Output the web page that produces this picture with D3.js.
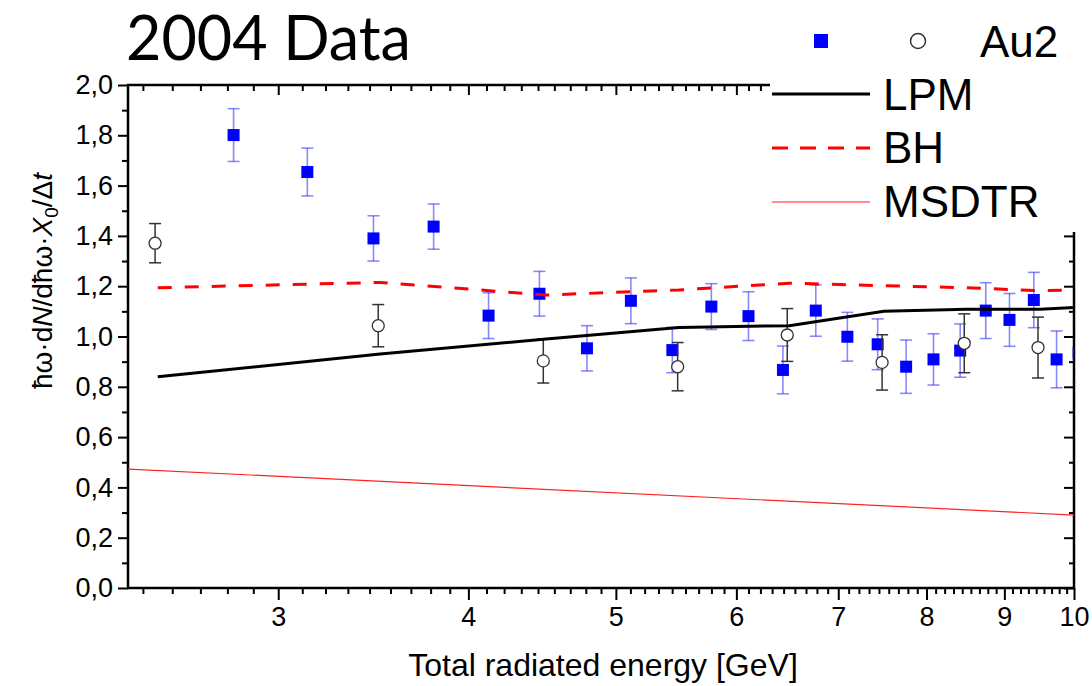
<!DOCTYPE html>
<html>
<head>
<meta charset="utf-8">
<script src="https://cdn.jsdelivr.net/npm/d3@7"></script>
<style>
  body { margin: 0; background: #fff; }
  text { font-family: "Liberation Sans", Arial, sans-serif; }
</style>
</head>
<body>
<div id="chart"></div>
<script>
// blue squares (first data set, no label in legend)
var energyBlue = [2.804, 3.135, 3.465, 3.795, 4.124, 4.454, 4.786, 5.115, 5.446, 5.777, 6.111, 6.438,
                  6.766, 7.097, 7.43, 7.757, 8.085, 8.418, 8.75, 9.07, 9.41, 9.74, 10.07];
var valueBlue  = [1.801, 1.654, 1.390, 1.437, 1.083, 1.170, 0.953, 1.142, 0.946, 1.119, 1.081, 0.867,
                  1.103, 0.999, 0.969, 0.880, 0.909, 0.944, 1.103, 1.066, 1.145, 0.909, 0.935];
var errBlue    = [0.105, 0.095, 0.090, 0.090, 0.091, 0.089, 0.090, 0.091, 0.090, 0.091, 0.097, 0.095,
                  0.102, 0.097, 0.101, 0.106, 0.102, 0.106, 0.111, 0.105, 0.110, 0.113, 0.118];

// Au2 open circles
var energyAu2 = [2.49, 3.49, 4.48, 5.49, 6.48, 7.48, 8.47, 9.47];
var valueAu2  = [1.371, 1.043, 0.903, 0.880, 1.006, 0.897, 0.973, 0.956];
var errAu2    = [0.078, 0.084, 0.088, 0.096, 0.105, 0.110, 0.117, 0.121];

// theory curves
var energyTheory = [2.5, 3.5, 4.5, 5.5, 6.5, 7.5, 8.5, 9.5, 10];
var valueLPM     = [0.840, 0.930, 0.990, 1.036, 1.043, 1.100, 1.108, 1.108, 1.115];
var valueBH      = [1.194, 1.215, 1.165, 1.185, 1.212, 1.202, 1.194, 1.182, 1.185];
var energyMSDTR  = [2.39, 10];
var valueMSDTR   = [0.473, 0.290];

// ticks
var xMajor = [3, 4, 5, 6, 7, 8, 9, 10];
var yMajor = [0, 0.2, 0.4, 0.6, 0.8, 1.0, 1.2, 1.4, 1.6, 1.8, 2.0];

var w = 1092, h = 686;
var pLeft = 128, pRight = 1074, pTop = 85, pBottom = 588;

var svg = d3.select("#chart").append("svg")
  .attr("width", w)
  .attr("height", h);

var x = d3.scaleLog().domain([2.39, 10]).range([pLeft, pRight]);
var y = d3.scaleLinear().domain([0, 2]).range([pBottom, pTop]);

// minor ticks: 8 between majors (1/9 apart), as on the original axis
var xMinor = [];
for (var m = 2; m < 10; m++) {
  for (var k = 1; k < 9; k++) {
    var v = m + k / 9;
    if (v >= 2.39 && v <= 10) xMinor.push(v);
  }
}
var yMinor = d3.range(0.1, 2, 0.2);

svg.append("defs").append("clipPath").attr("id", "plotclip")
  .append("rect")
  .attr("x", pLeft).attr("y", pTop)
  .attr("width", pRight - pLeft).attr("height", pBottom - pTop);

// axes
function styleAxis(g) {
  g.attr("font-size", 27).attr("font-family", "'Liberation Sans', Arial, sans-serif");
  g.select(".domain").remove();
  g.selectAll(".tick line").attr("stroke", "#000").attr("stroke-width", 2);
  g.selectAll(".tick text").attr("fill", "#000");
}

svg.append("g").attr("transform", "translate(0," + pBottom + ")")
  .call(d3.axisBottom(x).tickValues(xMajor).tickSize(12).tickPadding(7).tickFormat(d3.format("d")))
  .call(styleAxis);
svg.append("g").attr("transform", "translate(0," + pBottom + ")")
  .call(d3.axisBottom(x).tickValues(xMinor).tickSize(6).tickFormat(""))
  .call(styleAxis);

svg.append("g").attr("transform", "translate(0," + pTop + ")")
  .call(d3.axisTop(x).tickValues(xMajor).tickSize(-10).tickFormat(""))
  .call(styleAxis);
svg.append("g").attr("transform", "translate(0," + pTop + ")")
  .call(d3.axisTop(x).tickValues(xMinor).tickSize(-6).tickFormat(""))
  .call(styleAxis);

svg.append("g").attr("transform", "translate(" + pLeft + ",0)")
  .call(d3.axisLeft(y).tickValues(yMajor).tickSize(10).tickPadding(5)
        .tickFormat(d => d.toFixed(1).replace(".", ",")))
  .call(styleAxis);
svg.append("g").attr("transform", "translate(" + pLeft + ",0)")
  .call(d3.axisLeft(y).tickValues(yMinor).tickSize(6).tickFormat(""))
  .call(styleAxis);

svg.append("g").attr("transform", "translate(" + pRight + ",0)")
  .call(d3.axisRight(y).tickValues(yMajor).tickSize(-10).tickFormat(""))
  .call(styleAxis);
svg.append("g").attr("transform", "translate(" + pRight + ",0)")
  .call(d3.axisRight(y).tickValues(yMinor).tickSize(-5).tickFormat(""))
  .call(styleAxis);

// frame
svg.append("rect")
  .attr("x", pLeft).attr("y", pTop)
  .attr("width", pRight - pLeft).attr("height", pBottom - pTop)
  .attr("fill", "none").attr("stroke", "#000").attr("stroke-width", 2.5);

var plot = svg.append("g").attr("clip-path", "url(#plotclip)");

var blue = energyBlue.map((e, i) => ({e: e, v: valueBlue[i], err: errBlue[i]}));
var au2 = energyAu2.map((e, i) => ({e: e, v: valueAu2[i], err: errAu2[i]}));

function errorBars(data, color, width) {
  var g = plot.append("g").attr("stroke", color).attr("stroke-width", width).attr("fill", "none");
  data.forEach(function(d) {
    var cx = x(d.e);
    g.append("line").attr("x1", cx).attr("x2", cx).attr("y1", y(d.v - d.err)).attr("y2", y(d.v + d.err));
    g.append("line").attr("x1", cx - 6).attr("x2", cx + 6).attr("y1", y(d.v + d.err)).attr("y2", y(d.v + d.err));
    g.append("line").attr("x1", cx - 6).attr("x2", cx + 6).attr("y1", y(d.v - d.err)).attr("y2", y(d.v - d.err));
  });
}

errorBars(blue, "rgba(40,40,255,0.55)", 1.6);
plot.append("g").selectAll("rect")
  .data(blue)
  .join("rect")
  .attr("x", d => x(d.e) - 6)
  .attr("y", d => y(d.v) - 6)
  .attr("width", 12).attr("height", 12)
  .attr("fill", "#0000ff");

errorBars(au2, "#333", 1.5);
plot.append("g").selectAll("circle")
  .data(au2)
  .join("circle")
  .attr("cx", d => x(d.e))
  .attr("cy", d => y(d.v))
  .attr("r", 6)
  .attr("fill", "#fff")
  .attr("stroke", "#333")
  .attr("stroke-width", 1.3);

// theory lines
var line = d3.line().x(d => x(d[0])).y(d => y(d[1]));

plot.append("path")
  .datum(energyMSDTR.map((e, i) => [e, valueMSDTR[i]]))
  .attr("d", line)
  .attr("fill", "none").attr("stroke", "#ff2020").attr("stroke-width", 1.2);

plot.append("path")
  .datum(energyTheory.map((e, i) => [e, valueBH[i]]))
  .attr("d", line)
  .attr("fill", "none").attr("stroke", "#ff0000").attr("stroke-width", 3)
  .attr("stroke-dasharray", "14,13");

plot.append("path")
  .datum(energyTheory.map((e, i) => [e, valueLPM[i]]))
  .attr("d", line)
  .attr("fill", "none").attr("stroke", "#000").attr("stroke-width", 3);

// legend (white box covering top-right corner of the frame)
var lg = svg.append("g");
lg.append("rect").attr("x", 770).attr("y", 0).attr("width", w - 770).attr("height", 232).attr("fill", "#fff");
lg.append("rect").attr("x", 814).attr("y", 34).attr("width", 14).attr("height", 14).attr("fill", "#0000ff");
lg.append("circle").attr("cx", 918).attr("cy", 41).attr("r", 7.5)
  .attr("fill", "#fff").attr("stroke", "#333").attr("stroke-width", 1.5);
lg.append("text").attr("x", 980).attr("y", 57).style("font-size", "44px").text("Au2");

lg.append("line").attr("x1", 772).attr("x2", 870).attr("y1", 94).attr("y2", 94)
  .attr("stroke", "#000").attr("stroke-width", 3);
lg.append("text").attr("x", 883).attr("y", 110).style("font-size", "44px").text("LPM");

lg.append("line").attr("x1", 772).attr("x2", 870).attr("y1", 148).attr("y2", 148)
  .attr("stroke", "#ff0000").attr("stroke-width", 3).attr("stroke-dasharray", "16,12");
lg.append("text").attr("x", 883).attr("y", 163).style("font-size", "44px").text("BH");

lg.append("line").attr("x1", 772).attr("x2", 870).attr("y1", 202).attr("y2", 202)
  .attr("stroke", "#ff2020").attr("stroke-width", 1.2);
lg.append("text").attr("x", 883).attr("y", 217).style("font-size", "44px").text("MSDTR");

// title
svg.append("text")
  .attr("x", 126).attr("y", 60)
  .style("font-family", "Lato, 'Open Sans', sans-serif")
  .style("font-size", "61px")
  .text("2004 Data");

// x axis title
svg.append("text")
  .attr("x", 603).attr("y", 676)
  .attr("text-anchor", "middle")
  .style("font-size", "32px")
  .text("Total radiated energy [GeV]");

// y axis title
var yt = svg.append("text")
  .attr("transform", "translate(52,281) rotate(-90)")
  .attr("text-anchor", "middle")
  .style("font-size", "28px");
yt.append("tspan").text("\u0127\u03c9\u00b7d");
yt.append("tspan").style("font-style", "italic").text("N");
yt.append("tspan").text("/d\u0127\u03c9\u00b7");
yt.append("tspan").style("font-style", "italic").text("X");
yt.append("tspan").attr("dy", 6).style("font-size", "19px").text("0");
yt.append("tspan").attr("dy", -6).text("/\u0394");
yt.append("tspan").style("font-style", "italic").text("t");
</script>
</body>
</html>
